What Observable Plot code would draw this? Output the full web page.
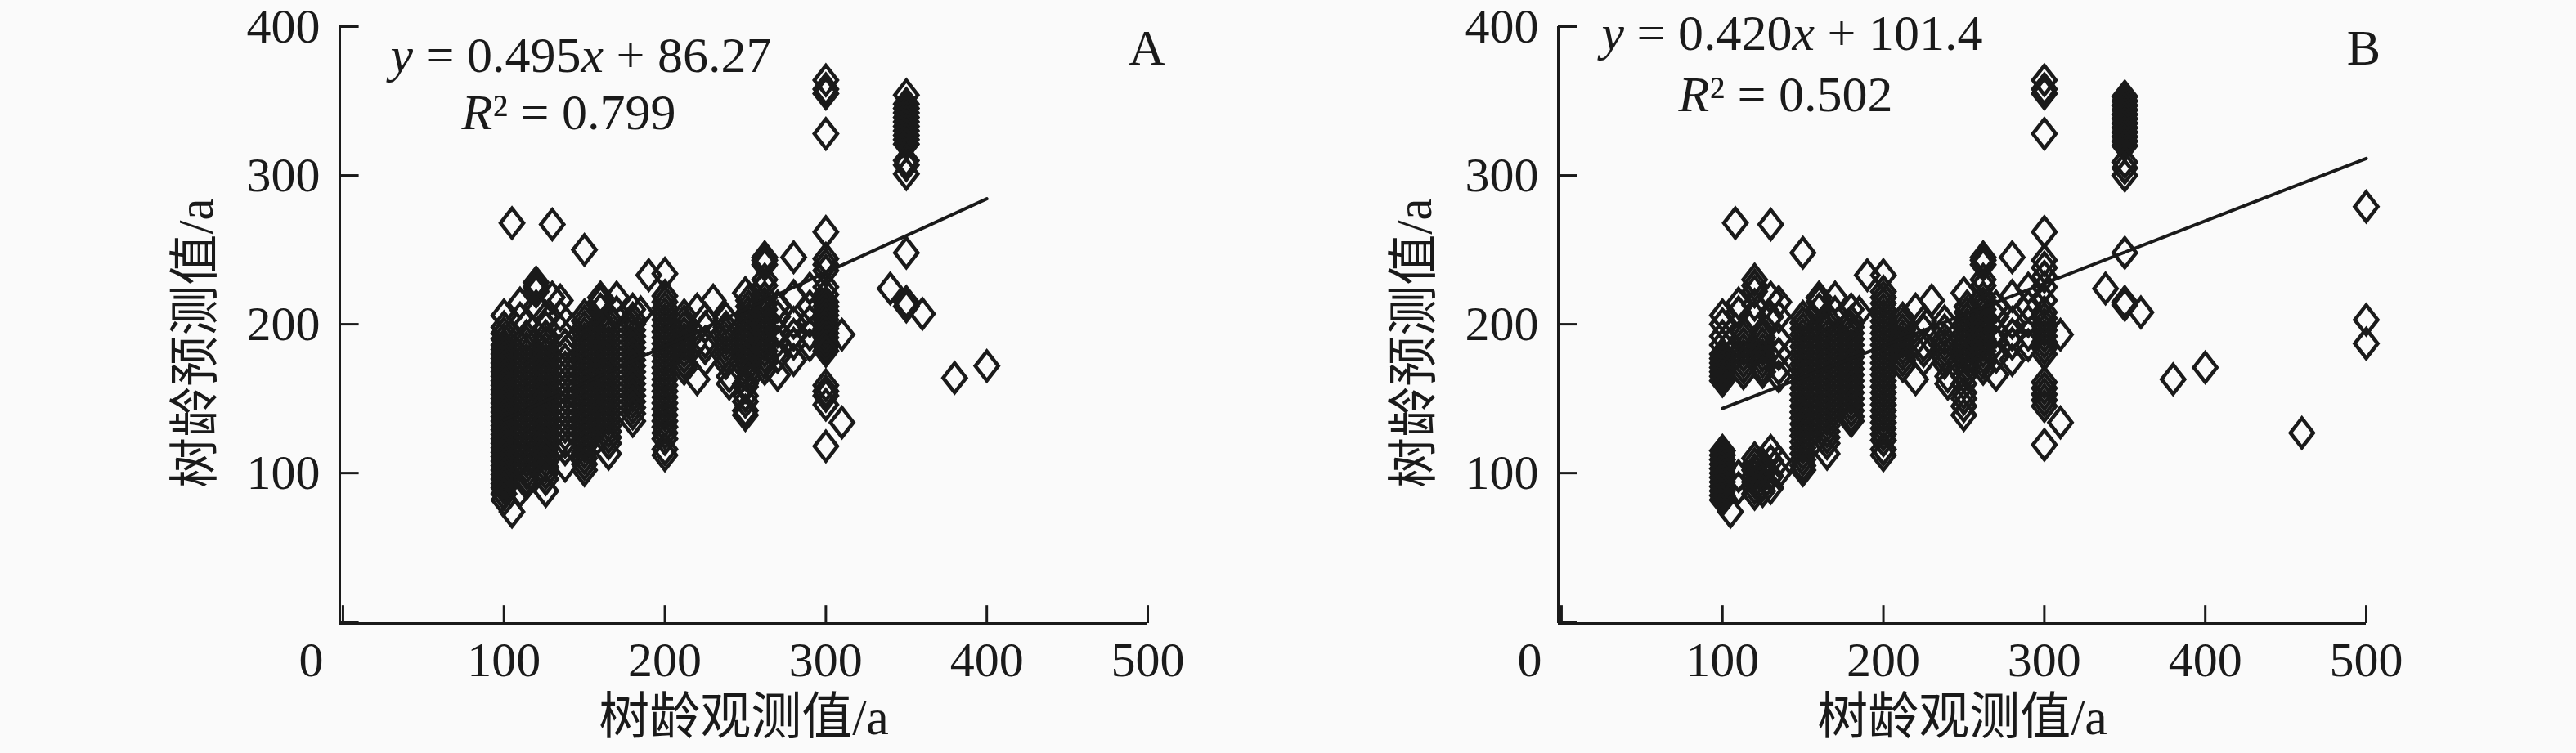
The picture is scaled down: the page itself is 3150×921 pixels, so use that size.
<!DOCTYPE html>
<html><head><meta charset="utf-8">
<script src="https://cdn.jsdelivr.net/npm/d3@7"></script>
<script src="https://cdn.jsdelivr.net/npm/@observablehq/plot@0.6"></script>
<style>html,body{margin:0;padding:0;background:#fafafa}#c{display:flex;width:3150px;height:921px;overflow:hidden}</style>
</head><body><div id="c"></div>
<script>
const xTicks=[100,200,300,400,500], yTicks=[100,200,300,400];
const xLabel="树龄观测值/a", yLabel="树龄预测值/a";
// Panel A : observed age -> predicted ages
const a100=[206,198,194,190,186,183,180,177,174,171,168,165,162,159,156,153,150,147,144,141,138,135,132,129,126,123,120,117,114,111,108,105,102,99,96,93,90,86,82];
const a105=[268,74];
const a110=[214,204,88];
const a114=[200,192,188,184,180,176,172,168,164,160,156,152,148,144,140,136,132,128,124,120,116,112,108,104,100,96,93];
const a120=[228,225,222,212];
const a126=[205,198,192,188,184,180,176,172,168,164,160,156,152,148,144,140,136,132,128,124,120,116,112,108,104,100,96,88];
const a130=[267,218];
const a135=[216,206,196];
const a138=[186,181,176,171,166,161,156,151,146,141,136,131,126,121,116,105];
const a150=[250,206,202,198,194,190,186,182,178,174,170,166,162,158,154,150,146,142,138,134,130,126,122,118,114,110,106,102];
const a160=[218,215,210];
const a165=[204,200,196,192,188,184,180,176,172,168,164,160,156,152,148,144,140,136,132,128,124,120,113];
const a170=[218,208];
const a180=[210,204,200,196,192,188,184,180,176,172,168,164,160,156,152,148,144,140,135];
const a185=[208];
const a190=[233];
const a200=[234,219,215,211,207,203,199,195,191,187,183,179,175,171,167,163,159,155,151,147,143,139,135,131,127,123,116,112];
const a212=[206,202,198,194,190,186,182,178,174,170];
const a220=[210,163];
const a225=[204,198,188,184,176];
const a230=[216];
const a238=[204,198,194,190,186,182,178,174];
const a240=[165,160];
const a250=[221,160,158,152,148,142,139];
const a252=[216,212,208,204,200,196,192,188,184,180,176,172,168,164];
const a262=[245,243,240,230,226,218,214,210,206,202,198,194,190,186,182,178,174,170];
const a270=[212,205,195,188,178,166];
const a280=[245,219,201,193,187,176];
const a290=[224,212,202,193,186];
const a300=[364,358,355,328,262,244,240,236,225,220,215,212,209,206,203,200,197,194,191,188,185,182,159,155,152,146,118];
const a310=[193,134];
const a340=[224];
const a350=[354,348,345,342,339,336,333,330,327,324,321,310,307,301,248,215,212];
const a360=[207];
const a380=[164];
const a400=[172];
const colsA=[[100,a100],[105,a105],[110,a110],[114,a114],[120,a120],[126,a126],[130,a130],[135,a135],[138,a138],[150,a150],[160,a160],[165,a165],[170,a170],[180,a180],[185,a185],[190,a190],[200,a200],[212,a212],[220,a220],[225,a225],[230,a230],[238,a238],[240,a240],[250,a250],[252,a252],[262,a262],[270,a270],[280,a280],[290,a290],[300,a300],[310,a310],[340,a340],[350,a350],[360,a360],[380,a380],[400,a400]];
const fitAX=[100,400], fitAY=[135.77,284.27];
// Panel B
const b100=[206,200,192,186,180,177,174,171,168,165,162,115,112,109,106,103,100,97,94,91,88,85,82];
const b105=[74];
const b108=[268];
const b110=[214,208,90,98];
const b113=[195,191,187,183,179,175,171,167];
const b120=[230,226,222,213,205,110,106,102,98,94,90,86];
const b125=[195,191,187,183,179,175,171,168,106,100,92,88];
const b130=[267,218,205,115,108,98,90];
const b135=[215,205,190,180,170,165,108,100];
const b150=[248,205,201,197,193,189,185,181,177,173,169,165,161,157,153,149,145,141,137,133,129,125,121,117,113,109,105,102];
const b160=[218,215,210];
const b165=[204,200,196,192,188,184,180,176,172,168,164,160,156,152,148,144,140,136,132,128,124,120,113];
const b170=[218,208];
const b180=[210,202,198,194,190,186,182,178,174,170,166,162,158,154,150,146,142,138,135];
const b185=[208];
const b190=[233];
const b200=[233,222,218,214,210,206,202,198,194,190,186,182,178,174,170,166,162,158,154,150,146,142,138,134,130,126,122,116,112];
const b212=[204,200,196,192,188,184,180,176,172];
const b220=[210,163];
const b225=[202,196,186,182,176];
const b230=[216];
const b238=[202,196,190,186,182,178,174];
const b240=[165,160];
const b250=[221,165,160,154,150,145,139];
const b252=[212,208,204,200,196,192,188,184,180,176,172,168];
const b262=[245,243,240,230,226,218,214,210,206,202,198,194,190,186,182,178,174,170];
const b270=[212,205,195,188,178,166];
const b280=[245,219,201,193,187,176];
const b290=[224,212,202,193,186];
const b300=[364,358,355,328,262,243,238,232,225,216,208,204,200,196,192,188,184,180,161,157,153,149,145,119];
const b310=[193,134];
const b338=[224];
const b350=[353,350,347,344,341,338,335,332,329,326,323,320,309,305,300,248,215,213];
const b360=[208];
const b380=[163];
const b400=[171];
const b460=[127];
const b500=[279,203,187];
const colsB=[[100,b100],[105,b105],[108,b108],[110,b110],[113,b113],[120,b120],[125,b125],[130,b130],[135,b135],[150,b150],[160,b160],[165,b165],[170,b170],[180,b180],[185,b185],[190,b190],[200,b200],[212,b212],[220,b220],[225,b225],[230,b230],[238,b238],[240,b240],[250,b250],[252,b252],[262,b262],[270,b270],[280,b280],[290,b290],[300,b300],[310,b310],[338,b338],[350,b350],[360,b360],[380,b380],[400,b400],[460,b460],[500,b500]];
const fitBX=[100,500], fitBY=[143.4,311.4];

const INK="#1a1a1a", SERIF="'Liberation Serif','Noto Sans CJK SC',serif";
const diamond={draw(c,size){const r=Math.sqrt(size/Math.PI),w=r*0.78;c.moveTo(0,-r);c.lineTo(w,0);c.lineTo(0,r);c.lineTo(-w,0);c.closePath();}};
const FS=60, FL=62;
function panel(o){
  const pts=o.cols.flatMap(([x,ys])=>ys.map(y=>({x,y})));
  const note=(t,a)=>Plot.text([t],{text:d=>d,frameAnchor:a.anchor||"top-left",dx:a.dx,dy:a.dy,textAnchor:a.ta||"start",lineAnchor:"middle",fontSize:FL,fontFamily:SERIF,fill:INK});
  const svg=Plot.plot({
    width:o.w,height:921,marginLeft:415,marginRight:o.w-1403,marginTop:32,marginBottom:159,
    style:{background:"transparent",overflow:"visible"},
    x:{domain:[-2,500]},y:{domain:[-1,400]},
    marks:[
      Plot.axisX({ticks:xTicks,tickSize:0,tickPadding:22,label:null,fontSize:FS,fontFamily:SERIF,fill:INK}),
      Plot.axisY({ticks:yTicks,tickSize:0,tickPadding:24,label:null,fontSize:FS,fontFamily:SERIF,fill:INK}),
      Plot.text(["0"],{text:d=>d,frameAnchor:"bottom-left",dx:-35,dy:22,textAnchor:"middle",lineAnchor:"top",fontSize:FS,fontFamily:SERIF,fill:INK}),
      Plot.text([xLabel],{text:d=>d,frameAnchor:"bottom",dy:116,lineAnchor:"middle",textAnchor:"middle",fontSize:FL,fontFamily:SERIF,fill:INK}),
      Plot.text([yLabel],{text:d=>d,frameAnchor:"left",dx:-175,dy:22,rotate:-90,lineAnchor:"middle",textAnchor:"middle",fontSize:FL,fontFamily:SERIF,fill:INK}),
      Plot.ruleX([-2],{stroke:INK,strokeWidth:3}),
      Plot.ruleY([-1],{stroke:INK,strokeWidth:3}),
      Plot.ruleX([0,...xTicks],{y1:-1,y2:11,stroke:INK,strokeWidth:3}),
      Plot.ruleY([0,...yTicks],{x1:-2,x2:10,stroke:INK,strokeWidth:3}),
      Plot.dot(pts,{x:"x",y:"y",r:18,symbol:diamond,stroke:INK,strokeWidth:4.5,fill:"none"}),
      Plot.line(o.fitX.map((x,i)=>({x,y:o.fitY[i]})),{x:"x",y:"y",stroke:INK,strokeWidth:4}),
      note(o.eq,{dx:o.eqDx,dy:o.eqDy}),
      note(o.r2,{dx:o.r2Dx,dy:o.r2Dy}),
      note(o.tag,{anchor:"top-right",dx:o.tagDx,dy:27,ta:"middle"})
    ]});
  d3.select(svg).selectAll("text").each(function(){
    const t=this.textContent;
    if(t===o.eq) this.innerHTML=t.replace(/^y/,'<tspan font-style="italic">y</tspan>').replace(/(\d)x/,'$1<tspan font-style="italic">x</tspan>');
    else if(t===o.r2) this.innerHTML=t.replace(/^R/,'<tspan font-style="italic">R</tspan>');
  });
  return svg;
}
const c=document.getElementById("c");
c.append(panel({w:1490,cols:colsA,fitX:fitAX,fitY:fitAY,eq:"y = 0.495x + 86.27",r2:"R² = 0.799",tag:"A",eqDx:62,eqDy:36,r2Dx:149,r2Dy:106,tagDx:-1}));
c.append(panel({w:1660,cols:colsB,fitX:fitBX,fitY:fitBY,eq:"y = 0.420x + 101.4",r2:"R² = 0.502",tag:"B",eqDx:53,eqDy:9,r2Dx:147,r2Dy:84,tagDx:-3}));
</script></body></html>
